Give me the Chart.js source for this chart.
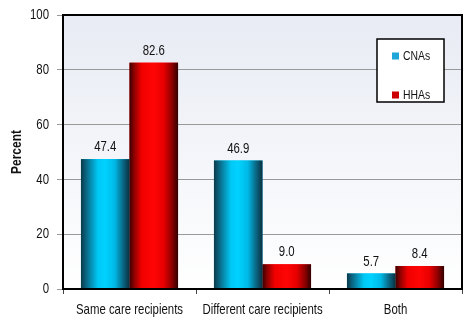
<!DOCTYPE html>
<html>
<head>
<meta charset="utf-8">
<script src="https://cdn.jsdelivr.net/npm/chart.js@4.4.1/dist/chart.umd.min.js"></script>
<style>
  html, body { margin: 0; padding: 0; background: #fff; }
  #wrap { width: 475px; height: 327px; }
</style>
</head>
<body>
<div id="wrap"><canvas id="chart" width="475" height="327"></canvas></div>
<script>
var categories = ['Same care recipients', 'Different care recipients', 'Both'];
var cnaValues = [47.4, 46.9, 5.7];
var hhaValues = [82.6, 9.0, 8.4];
var seriesNames = ['CNAs', 'HHAs'];
var yTicks = [0, 20, 40, 60, 80, 100];

var FONT = '"Liberation Sans", Arial, sans-serif';
var SQUEEZE = 0.76;   // the original uses a condensed face

// colour stops for the cylinder look of the bars
var barStops = [
    [[0, '#0b3a4a'], [0.12, '#0a6a88'], [0.35, '#00c8f5'], [0.5, '#00d2ff'], [0.7, '#00b8e6'], [0.86, '#0a6a88'], [1, '#0a3040']],
    [[0, '#3a0000'], [0.1, '#900000'], [0.25, '#f00000'], [0.5, '#ff0505'], [0.7, '#e80000'], [0.87, '#900000'], [1, '#300000']]
];
var legendColors = ['#1ea6d6', '#cc0000'];

// draws text narrowed horizontally around (x, y)
function narrowText(c, txt, x, y, size, align, weight, squeeze) {
    c.save();
    c.translate(x, y);
    c.scale(squeeze || SQUEEZE, 1);
    c.font = (weight || 'normal') + ' ' + size + 'px ' + FONT;
    c.textAlign = align;
    c.textBaseline = 'middle';
    c.fillStyle = '#111';
    c.fillText(txt, 0, 0);
    c.restore();
}

var plotBackground = {
    id: 'plotBackground',
    beforeDraw: function(chart) {
        var a = chart.chartArea, c = chart.ctx;
        var g = c.createLinearGradient(0, a.top, 0, a.bottom);
        g.addColorStop(0, '#e8ebf4');
        g.addColorStop(1, '#ffffff');
        c.save();
        c.fillStyle = g;
        c.fillRect(a.left, a.top, a.right - a.left, a.bottom - a.top);
        c.restore();
    }
};

var shadedBars = {
    id: 'shadedBars',
    afterDatasetsDraw: function(chart) {
        var c = chart.ctx;
        chart.data.datasets.forEach(function(ds, di) {
            var meta = chart.getDatasetMeta(di);
            meta.data.forEach(function(bar, i) {
                var p = bar.getProps(['x', 'y', 'base', 'width'], true);
                var left = p.x - p.width / 2;
                var g = c.createLinearGradient(left, 0, left + p.width, 0);
                barStops[di].forEach(function(s) { g.addColorStop(s[0], s[1]); });
                c.save();
                c.fillStyle = g;
                c.fillRect(left, p.y, p.width, p.base - p.y);
                c.restore();
                narrowText(c, ds.data[i].toFixed(1), p.x, p.y - 12, 15, 'center');
            });
        });
    },
    afterDraw: function(chart) {
        var a = chart.chartArea, c = chart.ctx;
        c.save();
        c.strokeStyle = '#000';
        c.lineWidth = 2;
        c.strokeRect(a.left, a.top, a.right - a.left, a.bottom - a.top);
        c.restore();

        // axis labels
        var xs = chart.scales.x, ys = chart.scales.y;
        chart.data.labels.forEach(function(lab, i) {
            narrowText(c, lab, xs.getPixelForTick(i), 310, 15, 'center');
        });
        yTicks.forEach(function(v) {
            narrowText(c, String(v), 49, ys.getPixelForValue(v), 15, 'right');
        });
        c.save();
        c.translate(17, (a.top + a.bottom) / 2);
        c.rotate(-Math.PI / 2);
        narrowText(c, 'Percent', 0, 0, 15, 'center', 'bold', 0.8);
        c.restore();

        // legend box
        var bx = 377, by = 39, bw = 67, bh = 63;
        c.save();
        c.fillStyle = '#fff';
        c.fillRect(bx, by, bw, bh);
        c.strokeStyle = '#000';
        c.lineWidth = 1.5;
        c.strokeRect(bx, by, bw, bh);
        c.restore();
        var rows = [56, 95];
        chart.data.datasets.forEach(function(ds, di) {
            c.fillStyle = legendColors[di];
            c.fillRect(392, rows[di] - 3.5, 7, 7);
            narrowText(c, ds.label, 403, rows[di], 13, 'left', 'normal', 0.8);
        });
    }
};

var ctx = document.getElementById('chart').getContext('2d');
var chart = new Chart(ctx, {
    type: 'bar',
    data: {
        labels: categories,
        datasets: [
            { label: seriesNames[0], data: cnaValues, backgroundColor: '#00c8f2' },
            { label: seriesNames[1], data: hhaValues, backgroundColor: '#ff0000' }
        ]
    },
    options: {
        responsive: false,
        animation: false,
        layout: { padding: { top: 15, right: 13, bottom: 0, left: 0 } },
        datasets: { bar: { categoryPercentage: 0.73, barPercentage: 1.0 } },
        plugins: {
            legend: { display: false },
            tooltip: { enabled: false }
        },
        scales: {
            x: {
                afterFit: function(s) { s.height = 38; },
                grid: {
                    offset: true,
                    drawOnChartArea: false,
                    drawTicks: true,
                    tickLength: 5,
                    color: '#444'
                },
                border: { color: '#000', width: 2 },
                ticks: { display: false }
            },
            y: {
                min: 0,
                max: 100,
                afterFit: function(s) { s.width = 63; },
                ticks: { stepSize: 20, display: false },
                grid: {
                    color: '#999999',
                    lineWidth: 1,
                    tickLength: 6
                },
                border: { color: '#000', width: 2 }
            }
        }
    },
    plugins: [plotBackground, shadedBars]
});
</script>
</body>
</html>
